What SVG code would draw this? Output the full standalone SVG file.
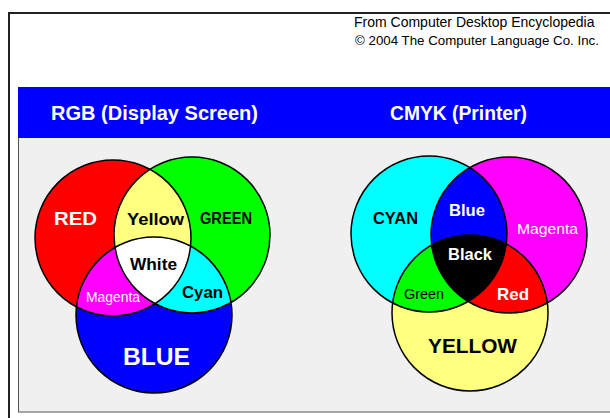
<svg xmlns="http://www.w3.org/2000/svg" width="610" height="418" viewBox="0 0 610 418">
<style>
.ol{fill:none;stroke:#000;stroke-width:1.5}
.b{font-family:"Liberation Sans",Arial,sans-serif;font-weight:bold;text-anchor:middle}
.r{font-family:"Liberation Sans",Arial,sans-serif;text-anchor:middle}
.w{fill:#fff}
.k{fill:#000}
.hd{font-family:"Liberation Sans",Arial,sans-serif;font-weight:bold;fill:#fff;font-size:20px}
.cr{font-family:"Liberation Sans",Arial,sans-serif;fill:#000}
</style>
<defs>
<clipPath id="cR"><circle cx="113" cy="238" r="78"/></clipPath>
<clipPath id="cG"><circle cx="192" cy="235" r="78"/></clipPath>
<clipPath id="cC"><circle cx="429" cy="234" r="78"/></clipPath>
<clipPath id="cM"><circle cx="509" cy="235" r="78"/></clipPath>
</defs>
<rect width="610" height="418" fill="#fff"/>
<g id="frame">
<path d="M9,418 V13 H610" fill="none" stroke="#222" stroke-width="2"/>
<text class="cr" x="354" y="27" font-size="14">From Computer Desktop Encyclopedia</text>
<text class="cr" x="355" y="45" font-size="13.3">© 2004 The Computer Language Co. Inc.</text>
</g>
<g id="panel">
<rect x="18.5" y="87.5" width="600" height="324.5" fill="#f0f0f0" stroke="#555" stroke-width="1"/>
<rect x="18" y="87" width="592" height="51" fill="#0000ff"/>
<text class="hd" x="51" y="120" textLength="207" lengthAdjust="spacingAndGlyphs">RGB (Display Screen)</text>
<text class="hd" x="390" y="120" textLength="137" lengthAdjust="spacingAndGlyphs">CMYK (Printer)</text>
</g>
<g id="rgb">
<g id="rgb-red"><circle cx="113" cy="238" r="78" fill="#ff0000"/></g>
<g id="rgb-green"><circle cx="192" cy="235" r="78" fill="#00ff00"/></g>
<g id="rgb-blue"><circle cx="154" cy="315" r="78" fill="#0000ff"/></g>
<g id="rgb-yellow"><circle cx="192" cy="235" r="78" fill="#ffff80" clip-path="url(#cR)"/></g>
<g id="rgb-magenta"><circle cx="154" cy="315" r="78" fill="#ff00ff" clip-path="url(#cR)"/></g>
<g id="rgb-cyan"><circle cx="154" cy="315" r="78" fill="#00ffff" clip-path="url(#cG)"/></g>
<g id="rgb-white" clip-path="url(#cR)"><circle cx="154" cy="315" r="78" fill="#ffffff" clip-path="url(#cG)"/></g>
<g id="rgb-outlines">
<circle class="ol" cx="113" cy="238" r="78"/>
<circle class="ol" cx="192" cy="235" r="78"/>
<circle class="ol" cx="154" cy="315" r="78"/>
</g>
<g id="rgb-labels">
<text class="b w" x="75.5" y="225" font-size="18" textLength="43" lengthAdjust="spacingAndGlyphs">RED</text>
<text class="b k" x="155.5" y="225" font-size="17" textLength="57" lengthAdjust="spacingAndGlyphs">Yellow</text>
<text class="b k" x="226" y="224" font-size="16" textLength="52" lengthAdjust="spacingAndGlyphs">GREEN</text>
<text class="b k" x="153.5" y="270" font-size="17" textLength="47" lengthAdjust="spacingAndGlyphs">White</text>
<text class="b k" x="202.5" y="298" font-size="16" textLength="41" lengthAdjust="spacingAndGlyphs">Cyan</text>
<text class="r w" x="113" y="302" font-size="14" textLength="54" lengthAdjust="spacingAndGlyphs">Magenta</text>
<text class="b w" x="156.5" y="365" font-size="24" textLength="67" lengthAdjust="spacingAndGlyphs">BLUE</text>
</g>
</g>
<g id="cmyk">
<g id="cmyk-cyan"><circle cx="429" cy="234" r="78" fill="#00ffff"/></g>
<g id="cmyk-magenta"><circle cx="509" cy="235" r="78" fill="#ff00ff"/></g>
<g id="cmyk-yellow"><circle cx="470" cy="313" r="78" fill="#ffff80"/></g>
<g id="cmyk-blue"><circle cx="509" cy="235" r="78" fill="#0000ff" clip-path="url(#cC)"/></g>
<g id="cmyk-green"><circle cx="470" cy="313" r="78" fill="#00ff00" clip-path="url(#cC)"/></g>
<g id="cmyk-red"><circle cx="470" cy="313" r="78" fill="#ff0000" clip-path="url(#cM)"/></g>
<g id="cmyk-black" clip-path="url(#cC)"><circle cx="470" cy="313" r="78" fill="#000000" clip-path="url(#cM)"/></g>
<g id="cmyk-outlines">
<circle class="ol" cx="429" cy="234" r="78"/>
<circle class="ol" cx="509" cy="235" r="78"/>
<circle class="ol" cx="470" cy="313" r="78"/>
</g>
<g id="cmyk-labels">
<text class="b k" x="395.5" y="224" font-size="16" textLength="45" lengthAdjust="spacingAndGlyphs">CYAN</text>
<text class="b w" x="467" y="216" font-size="17" textLength="36" lengthAdjust="spacingAndGlyphs">Blue</text>
<text class="b w" x="470" y="260" font-size="17" textLength="44" lengthAdjust="spacingAndGlyphs">Black</text>
<text class="r w" x="547.5" y="234" font-size="15" textLength="61" lengthAdjust="spacingAndGlyphs">Magenta</text>
<text class="r k" x="424" y="299" font-size="14" textLength="40" lengthAdjust="spacingAndGlyphs">Green</text>
<text class="b w" x="513" y="300" font-size="17" textLength="32" lengthAdjust="spacingAndGlyphs">Red</text>
<text class="b k" x="472.5" y="353" font-size="20" textLength="89" lengthAdjust="spacingAndGlyphs">YELLOW</text>
</g>
</g>
</svg>
